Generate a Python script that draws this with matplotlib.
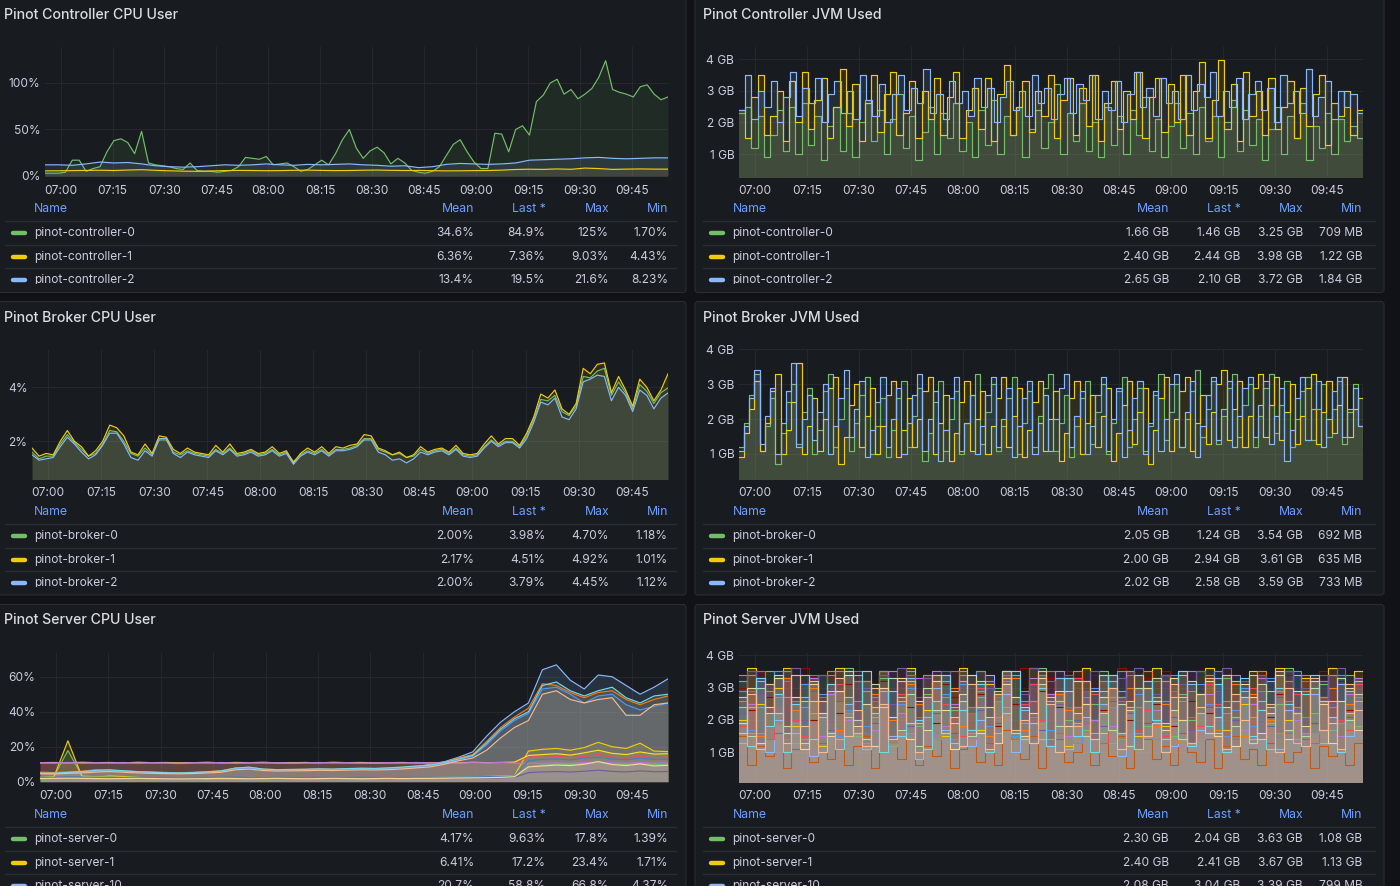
import numpy as np
import matplotlib
matplotlib.use("Agg")
import matplotlib.pyplot as plt
from matplotlib.patches import FancyBboxPatch

W, H = 1400, 886
plt.rcParams['font.family'] = ['Inter', 'DejaVu Sans']

# ---------------- data ----------------
TIME_LABELS = ["07:00", "07:15", "07:30", "07:45", "08:00", "08:15", "08:30",
               "08:45", "09:00", "09:15", "09:30", "09:45"]
TIME_TICKS = [0, 15, 30, 45, 60, 75, 90, 105, 120, 135, 150, 165]   # minutes after 07:00
T0, T1 = -4.6, 175.3                                                  # visible range (min)

LEGEND_HEADERS = ["Mean", "Last *", "Max", "Min"]

# Pinot Controller CPU User (%)
CTRL_CPU_NAMES = ["pinot-controller-0", "pinot-controller-1", "pinot-controller-2"]
ctrl_cpu_0 = [3, 3, 3, 4, 17, 17, 5, 8, 10, 26, 38, 40, 36, 24, 48, 14, 12, 11, 10, 8,
              7, 14, 6, 5, 5, 4, 5, 6, 10, 20, 19, 18, 21, 12, 13, 14, 10, 5, 7, 12,
              17, 12, 24, 39, 50, 30, 19, 27, 31, 25, 13, 19, 14, 6, 4, 3, 5, 10, 22, 34,
              39, 26, 15, 8, 8, 46, 45, 26, 50, 54, 44, 80, 87, 100, 104, 88, 93, 83, 88, 94,
              106, 124, 93, 90, 88, 85, 96, 98, 88, 82, 85]
ctrl_cpu_1 = [5.5, 5.6, 5.8, 6.0, 6.2, 5.9, 6.4, 6.8, 6.1, 5.6, 5.2, 5.0, 5.4, 5.8, 6.0, 5.9,
              5.7, 5.8, 6.1, 6.3, 6.0, 5.8, 5.9, 6.2, 6.4, 6.1, 5.9, 6.0, 5.7, 5.5, 5.6, 5.8,
              5.9, 6.3, 7.0, 7.3, 7.1, 7.6, 7.2, 8.5, 8.0, 7.1, 7.4, 7.6, 7.4, 7.36]
ctrl_cpu_2 = [12, 12, 11.5, 13, 15, 14, 14.5, 13, 11, 10, 9.5, 10, 11, 12, 11.5, 12, 13, 12,
              11.5, 12.5, 12, 12.5, 13, 12, 11.5, 10.5, 11, 9, 10, 12.5, 13.5, 13, 12.5, 13,
              14, 17, 17.5, 18, 18.5, 19.5, 20, 19, 18.5, 19, 19.5, 19.5]
CTRL_CPU_STATS = [["34.6%", "84.9%", "125%", "1.70%"],
                  ["6.36%", "7.36%", "9.03%", "4.43%"],
                  ["13.4%", "19.5%", "21.6%", "8.23%"]]

# Pinot Controller JVM Used (GB)
ctrl_jvm_0 = [2.3, 2.5, 1.2, 2.2, 0.9, 1.6, 2.4, 1.1, 2.5, 1.0, 2.6, 1.3, 2.2, 0.8, 1.9, 2.5, 1.1,
              2.3, 0.9, 2.0, 2.7, 1.4, 2.4, 1.0, 2.1, 2.9, 1.2, 2.2, 0.8, 1.7, 2.5, 1.0, 2.3, 1.5,
              2.6, 1.1, 2.0, 0.9, 2.4, 1.3, 2.7, 1.0, 2.2, 1.6, 2.5, 0.9, 1.8, 2.4, 1.2, 2.0, 3.2,
              1.0, 2.3, 1.4, 2.6, 1.1, 2.0, 0.9, 2.5, 1.3, 2.2, 1.0, 2.4, 1.6, 2.8, 1.1, 2.1, 0.9,
              1.9, 2.6, 1.2, 2.3, 1.0, 2.5, 1.4, 2.2, 0.9, 2.0, 2.7, 1.1, 2.4, 1.3, 2.1, 0.8, 1.8,
              2.5, 1.0, 2.2, 1.5, 2.6, 0.8, 1.9, 1.2, 2.3, 1.0, 2.1, 1.4, 1.9, 1.5, 1.46]
ctrl_jvm_1 = [2.4, 1.5, 2.8, 3.5, 1.6, 2.2, 3.0, 1.4, 3.3, 2.0, 3.6, 1.8, 2.7, 3.4, 1.5, 2.5, 3.7,
              1.9, 3.2, 1.4, 2.6, 3.5, 1.7, 2.9, 3.6, 1.6, 2.3, 3.3, 1.5, 3.0, 2.1, 3.4, 1.6, 2.8,
              3.6, 1.5, 2.4, 3.1, 1.8, 3.4, 1.4, 2.9, 3.8, 1.6, 2.5, 3.3, 1.7, 3.0, 2.2, 3.5, 1.5,
              2.7, 3.4, 1.6, 3.1, 1.9, 3.5, 1.4, 2.6, 3.3, 1.8, 3.0, 2.1, 3.6, 1.5, 2.8, 3.4, 1.7,
              3.2, 2.0, 3.5, 1.6, 3.0, 3.9, 1.5, 2.7, 3.98, 1.8, 3.2, 1.4, 3.6, 2.2, 3.0, 1.6, 3.4,
              1.8, 2.5, 3.3, 1.5, 3.1, 1.9, 2.9, 3.5, 1.3, 2.6, 2.2, 3.0, 1.6, 2.4, 2.44]
ctrl_jvm_2 = [2.4, 3.5, 2.1, 3.0, 2.5, 3.3, 2.0, 2.8, 3.6, 2.2, 3.1, 2.6, 3.4, 2.0, 2.9, 3.3, 2.3,
              3.0, 2.1, 3.5, 2.7, 2.2, 3.2, 2.0, 2.9, 3.5, 2.4, 3.1, 2.6, 3.7, 2.3, 2.9, 2.1, 3.3,
              2.6, 3.0, 2.2, 3.4, 2.5, 3.1, 2.0, 2.8, 3.3, 2.4, 3.0, 2.2, 3.5, 2.6, 3.1, 2.1, 2.9,
              3.4, 2.3, 3.2, 2.7, 3.5, 2.1, 3.0, 2.4, 3.3, 2.0, 2.9, 3.6, 2.5, 3.1, 2.2, 3.4, 2.6,
              3.0, 2.1, 3.5, 2.4, 3.2, 2.8, 3.6, 2.2, 3.0, 2.5, 3.4, 2.1, 2.9, 3.3, 2.4, 3.1, 2.0,
              3.5, 2.6, 3.0, 2.3, 3.7, 2.2, 2.8, 3.3, 2.1, 3.0, 2.5, 2.9, 2.3, 2.1]
CTRL_JVM_STATS = [["1.66 GB", "1.46 GB", "3.25 GB", "709 MB"],
                  ["2.40 GB", "2.44 GB", "3.98 GB", "1.22 GB"],
                  ["2.65 GB", "2.10 GB", "3.72 GB", "1.84 GB"]]

# Pinot Broker CPU User (%)
BROKER_NAMES = ["pinot-broker-0", "pinot-broker-1", "pinot-broker-2"]
broker_cpu_0 = [1.6, 1.35, 1.45, 1.45, 1.9, 2.25, 1.95, 1.7, 1.45, 1.55, 1.9, 2.4, 2.35, 2.0, 1.55,
                1.45, 1.75, 1.5, 2.05, 2.05, 1.6, 1.5, 1.65, 1.55, 1.5, 1.45, 1.7, 1.55, 1.75, 1.5,
                1.55, 1.65, 1.5, 1.55, 1.7, 1.5, 1.6, 1.25, 1.5, 1.65, 1.55, 1.7, 1.5, 1.7, 1.7,
                1.75, 1.85, 2.1, 2.1, 1.7, 1.6, 1.5, 1.55, 1.4, 1.45, 1.7, 1.55, 1.65, 1.7, 1.55,
                1.75, 1.5, 1.45, 1.5, 1.8, 2.05, 1.85, 2.0, 2.0, 1.8, 2.2, 2.8, 3.55, 3.5, 3.7,
                3.1, 2.95, 3.3, 4.4, 4.35, 4.6, 4.7, 3.7, 4.2, 3.8, 3.2, 4.1, 3.85, 3.4, 3.8, 3.98]
broker_cpu_1 = [1.75, 1.45, 1.55, 1.5, 2.0, 2.4, 2.0, 1.8, 1.45, 1.65, 2.0, 2.6, 2.5, 2.2, 1.6,
                1.5, 1.9, 1.55, 2.2, 2.15, 1.7, 1.55, 1.75, 1.6, 1.55, 1.5, 1.85, 1.6, 1.9, 1.55,
                1.6, 1.7, 1.55, 1.6, 1.8, 1.55, 1.65, 1.2, 1.55, 1.75, 1.6, 1.8, 1.55, 1.8, 1.75,
                1.85, 1.9, 2.25, 2.2, 1.75, 1.65, 1.5, 1.6, 1.4, 1.5, 1.8, 1.6, 1.7, 1.75, 1.6,
                1.85, 1.55, 1.5, 1.55, 1.9, 2.2, 1.9, 2.1, 2.1, 1.85, 2.3, 2.9, 3.75, 3.6, 3.9,
                3.2, 3.0, 3.4, 4.7, 4.5, 4.85, 4.9, 3.8, 4.4, 3.9, 3.3, 4.3, 4.0, 3.5, 3.9, 4.5]
broker_cpu_2 = [1.5, 1.3, 1.35, 1.4, 1.8, 2.15, 1.9, 1.6, 1.35, 1.5, 1.85, 2.3, 2.3, 1.9, 1.4,
                1.3, 1.65, 1.45, 2.1, 2.1, 1.55, 1.4, 1.6, 1.5, 1.45, 1.4, 1.65, 1.5, 1.7, 1.45,
                1.5, 1.6, 1.45, 1.5, 1.65, 1.45, 1.55, 1.15, 1.45, 1.6, 1.5, 1.65, 1.45, 1.65, 1.65,
                1.7, 1.8, 2.05, 2.05, 1.6, 1.5, 1.3, 1.35, 1.2, 1.35, 1.6, 1.5, 1.6, 1.65, 1.5,
                1.7, 1.45, 1.4, 1.45, 1.75, 2.0, 1.8, 1.95, 1.95, 1.75, 2.1, 2.7, 3.45, 3.35, 3.6,
                2.9, 2.8, 3.2, 4.2, 4.3, 4.45, 4.4, 3.5, 4.0, 3.7, 3.1, 3.9, 3.7, 3.2, 3.6, 3.79]
BROKER_CPU_STATS = [["2.00%", "3.98%", "4.70%", "1.18%"],
                    ["2.17%", "4.51%", "4.92%", "1.01%"],
                    ["2.00%", "3.79%", "4.45%", "1.12%"]]

# Pinot Broker JVM Used (GB)
broker_jvm_0 = [1.2, 1.9, 2.7, 3.3, 1.1, 1.8, 2.6, 0.7, 1.6, 2.5, 3.0, 1.3, 2.2, 2.9, 1.0, 1.7, 2.8,
                3.3, 1.2, 2.0, 2.9, 1.1, 1.9, 2.7, 3.2, 1.0, 1.8, 2.6, 0.9, 1.7, 2.6, 3.1, 1.2, 2.1,
                2.9, 0.8, 1.6, 2.5, 3.1, 1.1, 2.0, 2.8, 1.0, 1.9, 2.7, 3.3, 1.3, 2.2, 3.0, 1.1, 1.8,
                2.6, 3.2, 1.0, 1.9, 2.8, 1.2, 2.1, 2.9, 3.3, 1.1, 1.9, 2.7, 0.9, 1.8, 2.6, 3.1, 1.3,
                2.2, 3.0, 1.0, 1.9, 2.8, 3.2, 1.2, 2.0, 2.9, 1.1, 1.8, 2.7, 3.3, 1.4, 2.2, 3.0, 1.2,
                2.0, 2.8, 3.4, 1.5, 2.3, 3.1, 1.3, 2.1, 2.9, 3.3, 1.5, 2.4, 3.0, 1.2, 2.1, 2.9, 3.3,
                1.6, 2.4, 3.1, 1.2, 2.0, 2.8, 3.2, 1.4, 2.3, 3.0, 1.5, 2.3, 3.1, 1.3, 2.2, 3.0, 1.8,
                1.24]
broker_jvm_1 = [0.9, 1.6, 2.3, 3.1, 1.1, 1.9, 2.8, 3.3, 1.0, 1.7, 2.5, 3.6, 1.0, 1.8, 2.6, 1.1, 2.0,
                2.9, 3.2, 0.7, 1.5, 2.4, 3.0, 1.2, 2.1, 2.9, 1.0, 1.8, 2.7, 3.1, 0.9, 1.7, 2.6, 1.2,
                2.0, 2.8, 3.2, 1.0, 1.9, 2.7, 0.8, 1.6, 2.5, 3.1, 1.1, 2.0, 2.8, 1.0, 1.8, 2.6, 3.2,
                1.2, 2.1, 2.9, 0.9, 1.7, 2.5, 3.1, 1.1, 2.0, 2.8, 0.8, 1.6, 2.6, 3.1, 1.0, 1.9, 2.7,
                1.2, 2.1, 2.9, 0.8, 1.6, 2.4, 3.1, 1.3, 2.2, 2.9, 0.7, 1.7, 2.6, 3.2, 1.1, 2.0, 2.8,
                3.2, 1.1, 1.9, 2.7, 1.3, 2.2, 3.0, 3.4, 1.4, 2.3, 3.1, 1.2, 2.1, 2.9, 3.3, 1.5, 2.4,
                3.2, 1.4, 2.2, 3.0, 1.3, 2.1, 2.9, 3.3, 1.3, 2.2, 3.1, 1.6, 2.4, 3.2, 1.5, 2.3, 2.6,
                2.94]
broker_jvm_2 = [1.1, 1.8, 2.6, 3.4, 1.3, 2.1, 2.9, 1.0, 1.9, 2.8, 3.6, 1.2, 2.0, 2.7, 1.4, 2.2, 3.0,
                1.0, 1.8, 2.6, 3.4, 1.5, 2.3, 3.1, 0.9, 1.7, 2.5, 3.2, 1.2, 2.0, 2.9, 1.0, 1.9, 2.7,
                3.3, 1.1, 2.0, 2.8, 0.8, 1.7, 2.6, 3.2, 1.1, 1.9, 2.7, 1.0, 1.8, 2.7, 3.2, 1.2, 2.0,
                2.9, 0.9, 1.8, 2.6, 3.1, 1.0, 1.9, 2.7, 1.1, 2.0, 2.9, 3.3, 1.2, 2.1, 2.8, 1.0, 1.8,
                2.7, 3.2, 1.1, 2.0, 2.9, 0.9, 1.7, 2.6, 3.1, 1.0, 1.9, 2.8, 1.1, 2.0, 3.0, 3.3, 1.2,
                2.2, 3.1, 0.9, 1.8, 2.7, 3.2, 1.4, 2.3, 3.1, 1.2, 2.1, 2.9, 3.2, 1.5, 2.4, 3.1, 1.3,
                2.1, 2.9, 0.8, 1.7, 2.6, 3.2, 1.4, 2.3, 3.1, 1.2, 2.0, 2.8, 3.2, 1.5, 2.3, 2.9, 1.8,
                2.58]
BROKER_JVM_STATS = [["2.05 GB", "1.24 GB", "3.54 GB", "692 MB"],
                    ["2.00 GB", "2.94 GB", "3.61 GB", "635 MB"],
                    ["2.02 GB", "2.58 GB", "3.59 GB", "733 MB"]]

# Pinot Server CPU User (%) -- 4 min samples
SERVER_NAMES = ["pinot-server-0", "pinot-server-1", "pinot-server-10"]
SERVER_COLORS = ["#73BF69", "#F2CC0C", "#8AB8FF", "#FF780A", "#F2495C", "#5794F2", "#FADE2A",
                 "#705DA0", "#B877D9", "#447EBC", "#F4D598", "#70DBED", "#F9BA8F"]
server_cpu = [
    [2.5, 3.0, 17.8, 3.5, 2.8, 3.2, 3.0, 2.5, 2.2, 2.0, 1.8, 1.6, 1.5, 1.4, 1.6, 1.8, 2.0, 1.9,
     1.7, 1.6, 1.5, 1.6, 1.8, 1.7, 1.6, 1.5, 1.6, 1.7,
     1.8, 1.9, 2.0, 2.2, 2.3, 2.5, 3.0, 8.5, 9.5, 10.0, 9.8, 10.5, 11.0, 10.2, 9.8, 10.4, 9.9, 9.63],
    [2.5, 2.8, 23.4, 3.0, 2.6, 3.2, 2.9, 2.4, 2.2, 2.0, 2.1, 1.9, 1.8, 2.0, 2.2, 2.4, 2.3, 2.1,
     1.9, 2.0, 2.2, 2.1, 1.9, 1.8, 2.0, 2.1, 2.2, 2.3,
     2.4, 2.5, 2.6, 2.8, 3.0, 3.2, 3.5, 17.5, 18.5, 19.0, 18.0, 19.5, 22.5, 20.0, 19.0, 22.0, 17.5, 17.2],
    [5.0, 4.8, 5.2, 5.5, 6.0, 6.5, 6.2, 5.8, 5.5, 5.3, 5.0, 5.2, 5.5, 6.0, 7.5, 8.0, 7.0, 6.8,
     6.9, 7.0, 7.2, 7.0, 7.3, 7.5, 7.4, 7.6, 8.0, 8.5,
     10, 11.5, 14, 17, 26, 34, 40, 45, 64, 66.8, 58, 53, 61, 60, 55, 50, 54, 58.8],
    [5.5, 5.2, 5.6, 6.0, 6.8, 6.5, 6.0, 5.6, 5.3, 5.0, 5.1, 5.4, 5.8, 6.3, 7.8, 8.2, 7.2, 6.9,
     7.0, 7.1, 7.3, 7.1, 7.4, 7.6, 7.5, 7.8, 8.2, 8.8,
     9.5, 11, 13.5, 15.5, 23, 31, 37, 42, 56, 55, 51, 48, 51, 52, 47, 44, 47, 49],
    [10.6, 10.5, 10.8, 10.4, 10.6, 10.5, 10.7, 10.4, 10.6, 10.5, 10.3, 10.6, 10.5, 10.7, 10.4,
     10.6, 10.5, 10.6, 10.4, 10.5, 10.7, 10.5, 10.6, 10.4, 10.5, 10.6, 10.5, 10.7,
     10.5, 10.6, 10.4, 10.6, 10.5, 10.8, 11.0, 14.0, 15.0, 14.5, 13.8, 14.5, 15.5, 14.0, 13.5, 14.8, 13.6, 14.2],
    [4.8, 4.6, 5.0, 5.3, 5.8, 6.2, 5.9, 5.5, 5.2, 5.0, 4.8, 5.0, 5.3, 5.8, 7.2, 7.6, 6.8, 6.5,
     6.6, 6.8, 7.0, 6.8, 7.0, 7.2, 7.1, 7.3, 7.7, 8.2,
     9, 10.5, 12.5, 14.5, 21, 29, 35, 39, 53, 54, 50, 45, 49, 50, 44, 41, 43, 45],
    [10.9, 11.0, 10.8, 11.1, 10.9, 11.0, 10.8, 11.1, 10.9, 11.0, 10.8, 10.9, 11.1, 10.8, 11.0,
     10.9, 11.1, 10.8, 10.9, 11.0, 10.8, 11.1, 10.9, 11.0, 10.8, 10.9, 11.0, 10.8,
     10.9, 11.0, 10.8, 11.1, 10.9, 11.0, 11.2, 15.0, 15.5, 16.0, 15.2, 16.5, 18.0, 16.2, 15.5, 17.0, 15.8, 16.0],
    [2.0, 2.1, 2.2, 2.0, 1.9, 2.1, 2.0, 1.8, 1.9, 2.0, 1.8, 1.7, 1.9, 2.0, 2.1, 2.0, 1.9, 1.8,
     1.9, 2.0, 1.9, 1.8, 1.9, 2.0, 1.9, 1.8, 1.9, 2.0,
     2.0, 2.1, 2.0, 2.2, 2.1, 2.3, 2.5, 5.2, 5.6, 5.8, 5.5, 6.0, 6.6, 5.9, 5.6, 6.2, 5.7, 5.8],
    [10.9, 10.8, 11.0, 10.7, 10.9, 10.8, 11.0, 10.7, 10.9, 10.8, 10.6, 10.9, 10.8, 11.0, 10.7,
     10.9, 10.8, 10.9, 10.7, 10.8, 11.0, 10.8, 10.9, 10.7, 10.8, 10.9, 10.8, 11.0,
     10.8, 10.9, 10.7, 10.9, 10.8, 11.0, 10.6, 10.4, 10.6, 10.8, 10.5, 10.9, 11.2, 10.7, 10.5, 10.9, 10.6, 10.7],
    [2.6, 2.5, 2.8, 2.7, 2.5, 2.6, 2.4, 2.5, 2.3, 2.4, 2.2, 2.3, 2.4, 2.5, 2.6, 2.4, 2.3, 2.5,
     2.4, 2.3, 2.5, 2.4, 2.3, 2.5, 2.4, 2.3, 2.4, 2.5,
     2.5, 2.6, 2.7, 2.8, 2.9, 3.0, 3.3, 12.0, 12.8, 13.0, 12.5, 13.5, 14.0, 13.0, 12.6, 13.4, 12.8, 12.9],
    [1.8, 1.9, 2.0, 1.9, 1.8, 1.7, 1.8, 1.9, 1.8, 1.7, 1.6, 1.7, 1.8, 1.9, 1.8, 1.7, 1.8, 1.9,
     1.8, 1.7, 1.8, 1.9, 1.8, 1.7, 1.8, 1.9, 1.8, 1.9,
     1.9, 2.0, 2.1, 2.2, 2.3, 2.5, 2.8, 8.5, 9.0, 9.5, 9.2, 10.0, 11.5, 9.8, 9.2, 10.2, 9.0, 9.4],
    [4.8, 4.9, 5.3, 5.8, 6.5, 6.8, 6.2, 5.7, 5.4, 5.1, 5.0, 5.2, 5.6, 6.2, 7.8, 8.3, 7.2, 6.9,
     7.0, 7.1, 7.3, 7.2, 7.5, 7.7, 7.6, 7.9, 8.4, 9.0,
     9.5, 11, 13, 15, 22, 30, 36, 40, 55, 57, 52, 49, 52, 54, 48, 45, 49, 50],
    [4.5, 4.4, 4.8, 5.0, 5.5, 5.8, 5.4, 5.0, 4.8, 4.6, 4.5, 4.7, 5.0, 5.4, 6.8, 7.2, 6.4, 6.1,
     6.2, 6.3, 6.5, 6.4, 6.6, 6.8, 6.7, 6.9, 7.3, 7.9,
     8.5, 10, 12, 13.5, 18, 25, 31, 35, 50, 52, 47, 45, 47, 48, 38, 38, 44, 45],
]
SERVER_CPU_STATS = [["4.17%", "9.63%", "17.8%", "1.39%"],
                    ["6.41%", "17.2%", "23.4%", "1.71%"],
                    ["20.7%", "58.8%", "66.8%", "4.37%"]]

# Pinot Server JVM Used (GB) -- 2.5 min samples (drawn in this order)
SERVER_JVM_COLORS = ["#C15C17", "#890F02", "#73BF69", "#F2CC0C", "#8AB8FF", "#FF780A", "#F2495C",
                     "#5794F2", "#B877D9", "#705DA0", "#B7DBAB", "#F4D598", "#70DBED", "#F9BA8F"]
server_jvm = [
    [1.5, 0.6, 1.2, 0.9, 1.6, 0.5, 1.1, 1.4, 0.7, 1.3, 0.8, 1.7, 0.6, 1.2, 1.5, 0.5, 1.0, 1.4, 0.8,
     1.6, 0.6, 1.2, 0.9, 1.5, 0.5, 1.1, 1.4, 0.7, 1.3, 0.6, 1.7, 1.0, 0.8, 1.5, 0.5, 1.2, 1.4, 0.7,
     1.0, 1.6, 0.6, 1.3, 0.9, 1.5, 0.5, 1.1, 1.4, 0.8, 1.2, 0.6, 1.6, 1.0, 0.7, 1.4, 0.5, 1.2, 1.5,
     0.8, 1.1, 0.6, 1.3, 1.6, 0.7, 1.0, 1.4, 0.5, 1.2, 0.9, 1.5, 0.6, 1.3, 1.1],
    [3.0, 2.3, 3.5, 2.7, 1.9, 3.3, 2.5, 3.6, 2.0, 2.8, 3.4, 2.2, 3.1, 1.8, 3.5, 2.6, 3.2, 2.0, 3.6,
     2.4, 2.9, 3.4, 1.9, 3.1, 2.7, 3.5, 2.2, 2.8, 3.4, 1.8, 3.2, 2.5, 3.6, 2.1, 2.9, 3.3, 2.4, 3.5,
     1.9, 2.7, 3.4, 2.3, 3.0, 3.6, 2.0, 2.8, 3.3, 2.5, 3.5, 1.8, 3.1, 2.6, 3.4, 2.2, 2.9, 3.6, 2.0,
     3.2, 2.7, 3.5, 2.1, 2.8, 3.4, 2.4, 3.0, 1.9, 3.5, 2.6, 3.2, 2.3, 3.4, 2.8],
    [3.2, 1.6, 2.4, 3.5, 1.9, 2.7, 1.3, 3.1, 2.2, 3.4, 1.7, 2.6, 3.6, 1.5, 2.9, 2.1, 3.3, 1.2, 2.5,
     3.5, 1.8, 2.8, 1.4, 3.2, 2.3, 3.5, 1.6, 2.7, 1.1, 3.0, 2.4, 3.4, 1.9, 2.6, 3.6, 1.4, 2.8, 2.0,
     3.3, 1.7, 2.5, 3.5, 1.3, 2.9, 2.2, 3.4, 1.8, 2.6, 3.2, 1.5, 2.8, 2.0, 3.5, 1.6, 2.4, 3.3, 1.2,
     2.7, 2.1, 3.4, 1.9, 2.5, 3.6, 1.4, 2.9, 2.2, 3.1, 1.7, 2.6, 3.4, 1.8, 2.04],
    [2.0, 3.6, 2.5, 1.4, 3.0, 3.6, 1.8, 2.6, 3.3, 1.2, 2.8, 3.6, 2.1, 1.6, 3.2, 2.4, 3.5, 1.3, 2.7,
     3.6, 1.9, 2.3, 3.4, 1.5, 2.9, 3.6, 2.2, 1.7, 3.1, 2.6, 3.5, 1.4, 2.5, 3.6, 1.9, 2.8, 3.3, 1.2,
     2.4, 3.6, 2.0, 1.6, 3.0, 2.7, 3.5, 1.5, 2.6, 3.6, 1.8, 2.3, 3.4, 1.3, 2.8, 3.6, 2.1, 1.7, 3.2,
     2.5, 3.5, 1.4, 2.9, 3.6, 2.0, 2.4, 3.3, 1.6, 2.7, 3.6, 1.9, 2.2, 3.5, 2.41],
    [1.3, 2.4, 3.2, 1.0, 2.0, 3.3, 1.6, 2.7, 0.9, 2.2, 3.1, 1.4, 2.5, 3.4, 1.1, 1.9, 2.9, 1.5, 2.6,
     3.3, 0.8, 2.1, 3.0, 1.7, 2.4, 3.2, 1.2, 2.0, 3.4, 1.6, 2.8, 1.0, 2.3, 3.1, 1.4, 2.6, 3.3, 1.1,
     1.9, 2.9, 1.6, 2.5, 3.2, 0.9, 2.2, 3.0, 1.5, 2.7, 3.4, 1.2, 2.0, 3.1, 1.7, 2.4, 3.3, 1.0, 2.1,
     2.9, 1.4, 2.6, 3.2, 1.1, 2.3, 3.4, 1.6, 2.8, 1.3, 2.1, 3.1, 1.5, 2.6, 3.04],
    [2.6, 3.4, 1.5, 2.9, 1.9, 3.3, 2.3, 1.4, 3.0, 2.6, 3.5, 1.7, 2.2, 3.2, 1.3, 2.8, 3.5, 2.0, 1.6,
     3.1, 2.5, 3.4, 1.4, 2.7, 3.0, 1.8, 2.4, 3.5, 1.5, 2.9, 2.1, 3.3, 1.7, 2.6, 3.4, 1.2, 2.8, 2.3,
     3.5, 1.6, 2.0, 3.2, 2.7, 1.4, 3.0, 2.4, 3.5, 1.8, 2.5, 3.3, 1.3, 2.9, 2.2, 3.4, 1.7, 2.6, 3.1,
     1.5, 2.8, 3.5, 2.0, 1.6, 3.2, 2.4, 3.4, 1.4, 2.7, 3.0, 1.9, 2.5, 3.3, 2.2],
    [1.8, 2.9, 3.5, 1.4, 2.4, 3.2, 2.0, 1.5, 3.4, 2.7, 1.9, 3.1, 2.3, 3.5, 1.6, 2.6, 3.0, 1.3, 2.8,
     3.4, 2.1, 1.7, 3.2, 2.5, 3.5, 1.5, 2.2, 3.0, 1.8, 2.7, 3.4, 1.4, 2.5, 3.1, 2.0, 3.5, 1.6, 2.4,
     3.3, 1.9, 2.8, 1.3, 3.0, 2.6, 3.4, 1.7, 2.3, 3.2, 1.5, 2.9, 3.5, 2.1, 1.8, 3.1, 2.5, 3.4, 1.4,
     2.7, 3.0, 1.9, 2.4, 3.5, 1.6, 2.8, 3.2, 1.3, 2.6, 3.4, 2.0, 1.7, 3.1, 2.5],
    [2.9, 1.7, 3.3, 2.2, 3.5, 1.4, 2.6, 3.1, 1.9, 2.8, 3.4, 1.5, 2.3, 3.2, 1.8, 2.7, 3.5, 1.3, 2.5,
     3.0, 2.0, 3.4, 1.6, 2.8, 1.4, 3.1, 2.4, 3.5, 1.8, 2.6, 3.2, 1.5, 2.9, 2.1, 3.4, 1.7, 2.5, 3.3,
     1.3, 2.7, 3.0, 1.9, 2.4, 3.5, 1.6, 2.8, 3.2, 1.4, 2.6, 3.4, 2.0, 1.7, 3.1, 2.5, 3.5, 1.5, 2.3,
     3.0, 1.8, 2.9, 3.3, 1.4, 2.6, 3.5, 2.1, 1.6, 3.2, 2.4, 3.4, 1.9, 2.7, 3.0],
    [3.4, 2.5, 1.6, 3.1, 2.7, 3.5, 1.9, 2.4, 3.3, 1.5, 2.8, 3.5, 2.0, 2.6, 3.2, 1.7, 3.0, 3.5, 2.2,
     1.6, 3.3, 2.7, 3.5, 1.8, 2.5, 3.4, 1.4, 2.9, 3.2, 2.1, 3.5, 1.7, 2.6, 3.3, 1.9, 2.8, 3.5, 1.5,
     2.4, 3.2, 2.0, 3.4, 1.8, 2.7, 3.5, 1.6, 3.0, 2.3, 3.4, 1.9, 2.6, 3.5, 1.4, 2.8, 3.1, 2.2, 3.4,
     1.7, 2.5, 3.3, 1.8, 2.9, 3.5, 2.0, 1.6, 3.2, 2.6, 3.4, 1.5, 2.8, 3.3, 2.9],
    [2.2, 3.5, 2.8, 1.8, 3.3, 2.4, 3.6, 2.0, 2.9, 3.4, 1.7, 2.6, 3.5, 2.1, 3.0, 1.9, 3.4, 2.5, 3.6,
     1.8, 2.7, 3.3, 2.2, 3.5, 1.6, 2.9, 3.4, 2.3, 3.0, 1.9, 3.5, 2.4, 2.8, 3.6, 1.7, 3.2, 2.5, 3.4,
     2.0, 2.9, 3.5, 1.8, 2.6, 3.3, 2.2, 3.6, 1.9, 2.8, 3.4, 2.1, 3.1, 1.7, 3.5, 2.4, 2.9, 3.6, 2.0,
     3.2, 2.6, 3.4, 1.8, 2.7, 3.5, 2.3, 3.0, 1.9, 3.4, 2.5, 3.6, 2.1, 2.8, 3.3],
    [2.7, 1.5, 3.0, 2.2, 3.4, 1.8, 2.5, 1.3, 3.2, 2.6, 1.6, 2.9, 3.5, 2.0, 1.4, 3.1, 2.4, 3.3, 1.7,
     2.8, 1.2, 3.0, 2.3, 3.4, 1.9, 2.6, 1.5, 3.2, 2.1, 2.9, 3.5, 1.6, 2.4, 1.3, 3.1, 2.7, 1.8, 3.3,
     2.2, 1.5, 2.9, 3.4, 1.7, 2.5, 1.2, 3.0, 2.6, 3.3, 1.9, 2.3, 1.4, 3.2, 2.8, 1.6, 2.1, 3.4, 1.8,
     2.7, 1.3, 3.1, 2.4, 3.5, 1.7, 2.2, 1.5, 3.0, 2.6, 1.9, 3.3, 2.0, 2.8, 2.5],
    [1.9, 3.0, 1.3, 2.4, 3.3, 1.6, 2.7, 1.1, 3.1, 2.2, 1.5, 2.9, 3.4, 1.8, 2.5, 1.2, 3.0, 2.1, 3.3,
     1.4, 2.6, 1.7, 3.2, 2.3, 1.1, 2.8, 3.4, 1.6, 2.4, 1.3, 3.1, 2.7, 1.5, 2.2, 3.3, 1.2, 2.9, 1.8,
     3.2, 2.5, 1.4, 2.7, 3.4, 1.6, 2.3, 1.1, 3.0, 2.6, 1.7, 3.3, 2.0, 1.3, 2.8, 3.2, 1.5, 2.4, 1.2,
     3.1, 2.7, 1.6, 2.2, 3.4, 1.4, 2.9, 1.8, 3.2, 2.5, 1.3, 2.6, 3.0, 1.7, 2.4],
    [2.4, 1.2, 3.3, 1.8, 2.8, 1.0, 2.5, 3.4, 1.4, 2.1, 3.1, 1.1, 2.7, 1.6, 3.5, 2.2, 1.0, 2.9, 1.5,
     3.2, 2.0, 1.1, 2.6, 3.4, 1.3, 2.3, 1.7, 3.1, 1.0, 2.8, 2.2, 3.5, 1.4, 1.9, 3.0, 1.2, 2.6, 3.3,
     1.5, 2.1, 1.0, 2.9, 3.4, 1.6, 2.4, 1.1, 3.2, 2.0, 1.4, 2.7, 3.5, 1.2, 2.2, 1.8, 3.1, 1.0, 2.6,
     3.3, 1.5, 2.3, 1.1, 3.0, 2.5, 1.3, 2.8, 3.4, 1.7, 2.1, 1.0, 2.9, 3.2, 2.4],
    [1.6, 2.8, 1.1, 3.1, 2.2, 1.3, 3.4, 1.8, 2.6, 1.0, 2.9, 3.3, 1.5, 2.3, 1.2, 3.0, 2.5, 1.4, 3.2,
     1.9, 1.0, 2.7, 3.4, 1.6, 2.1, 1.2, 3.1, 2.4, 1.1, 2.8, 3.3, 1.7, 2.0, 1.3, 3.5, 2.5, 1.0, 2.9,
     1.8, 3.2, 1.4, 2.2, 3.0, 1.1, 2.6, 3.4, 1.5, 1.9, 1.0, 3.1, 2.7, 1.3, 2.4, 3.3, 1.6, 1.1, 2.8,
     2.0, 3.4, 1.4, 2.5, 1.0, 3.0, 2.2, 1.2, 3.3, 1.7, 2.6, 1.1, 3.1, 2.3, 1.9],
]
SERVER_JVM_STATS = [["2.30 GB", "2.04 GB", "3.63 GB", "1.08 GB"],
                    ["2.40 GB", "2.41 GB", "3.67 GB", "1.13 GB"],
                    ["2.08 GB", "3.04 GB", "3.39 GB", "799 MB"]]

TRIO_COLORS = ["#73BF69", "#F2CC0C", "#8AB8FF"]

# ---------------- style ----------------
CANVAS = "#111217"
PANEL = "#181b1f"
BORDER = "#2a2c32"
GRID = "#25272c"
TXT = "#ccccdc"
TITLE = "#dcdce4"
HEAD = "#6e9fff"
SEP = "#2a2c32"

fig = plt.figure(figsize=(14, 8.86), dpi=100)
fig.patch.set_facecolor(CANVAS)
bg = fig.add_axes([0, 0, 1, 1])
bg.set_xlim(0, W)
bg.set_ylim(H, 0)
bg.axis('off')


def panel(x0, y0, x1, y1):
    bg.add_patch(FancyBboxPatch((x0, y0), x1 - x0, y1 - y0,
                                boxstyle="round,pad=0,rounding_size=3",
                                fc=PANEL, ec=BORDER, lw=0.8))


def pax(l, t, r, b):
    return fig.add_axes([l / W, 1 - b / H, (r - l) / W, (b - t) / H])


def style_axes(ax, ylim, yticks, ylabels):
    ax.set_facecolor('none')
    ax.set_xlim(T0, T1)
    ax.set_ylim(*ylim)
    ax.set_xticks(TIME_TICKS)
    ax.set_xticklabels(TIME_LABELS)
    ax.set_yticks(yticks)
    ax.set_yticklabels(ylabels)
    for s in ax.spines.values():
        s.set_visible(False)
    ax.grid(True, color=GRID, lw=0.8)
    ax.set_axisbelow(True)
    ax.tick_params(length=0, colors=TXT, labelsize=8.6)
    ax.tick_params(axis='x', pad=5.6)
    ax.tick_params(axis='y', pad=3.2)


def series(ax, vals, color, step=False, alpha=0.1, lw=0.85):
    y = np.asarray(vals, dtype=float)
    x = np.linspace(T0, T1, len(y))
    if step:
        ax.fill_between(x, y, 0, step='post', color=color, alpha=alpha, lw=0)
        ax.step(x, y, where='post', color=color, lw=lw)
    else:
        ax.fill_between(x, y, 0, color=color, alpha=alpha, lw=0)
        ax.plot(x, y, color=color, lw=lw)


def legend(px0, px1, y_head, clip_bottom, names, colors, stats, right=False):
    lax = fig.add_axes([px0 / W, 1 - clip_bottom / H, (px1 - px0) / W,
                        (clip_bottom - (y_head - 12)) / H])
    lax.set_xlim(px0, px1)
    lax.set_ylim(clip_bottom, y_head - 12)
    lax.axis('off')
    off = 698.5 if right else 0
    name_x = 34 + off
    sw0, sw1 = 13 + off, 24.5 + off
    cols = [474, 545.5, 609, 668] if not right else [1169, 1240.5, 1303, 1362.5]
    sep0, sep1 = 4.5 + off, 676 + off
    lax.text(name_x, y_head, "Name", color=HEAD, fontsize=8.8, va='center', ha='left',
             clip_on=True)
    for hx, htxt in zip(cols, LEGEND_HEADERS):
        lax.text(hx, y_head, htxt, color=HEAD, fontsize=8.8, va='center', ha='right',
                 clip_on=True)
    for i in range(3):
        ys = y_head + 12 + i * 23.6
        lax.plot([sep0, sep1], [ys, ys], color=SEP, lw=1.0, clip_on=True)
        yr = y_head + 24 + i * 23.7
        lax.plot([sw0, sw1], [yr, yr], color=colors[i], lw=3.2, solid_capstyle='round',
                 clip_on=True)
        lax.text(name_x, yr, names[i], color=TXT, fontsize=8.6, va='center', ha='left',
                 clip_on=True)
        for hx, v in zip(cols, stats[i]):
            lax.text(hx, yr, v, color=TXT, fontsize=8.6, va='center', ha='right',
                     clip_on=True)


# panels
panel(-6, -6, 686, 292.5)
panel(695, -6, 1384, 292.5)
panel(-6, 301.5, 686, 595)
panel(695, 301.5, 1384, 595)
panel(-6, 604.5, 686, 900)
panel(695, 604.5, 1384, 900)

titles = [("Pinot Controller CPU User", 4, 15), ("Pinot Controller JVM Used", 703, 15),
          ("Pinot Broker CPU User", 4, 318), ("Pinot Broker JVM Used", 703, 318),
          ("Pinot Server CPU User", 4, 620.5), ("Pinot Server JVM Used", 703, 620.5)]
for txt, tx, ty in titles:
    bg.text(tx, ty, txt, color=TITLE, fontsize=10.2, fontweight='medium', va='center', ha='left')

# ---- Controller CPU
ax = pax(44.6, 47, 668, 177)
style_axes(ax, (-1.08, 138.7), [0, 50, 100], ["0%", "50%", "100%"])
for vals, c in zip([ctrl_cpu_0, ctrl_cpu_1, ctrl_cpu_2], TRIO_COLORS):
    series(ax, vals, c, alpha=0.1)
legend(0, 686, 209, 283.6, CTRL_CPU_NAMES, TRIO_COLORS, CTRL_CPU_STATS)

# ---- Controller JVM
ax = pax(738.7, 47, 1363, 177)
style_axes(ax, (0.274, 4.38), [1, 2, 3, 4], ["1 GB", "2 GB", "3 GB", "4 GB"])
for vals, c in zip([ctrl_jvm_0, ctrl_jvm_1, ctrl_jvm_2], TRIO_COLORS):
    series(ax, vals, c, step=True, alpha=0.11)
legend(695, 1384, 209, 283.6, CTRL_CPU_NAMES, TRIO_COLORS, CTRL_JVM_STATS, right=True)

# ---- Broker CPU
ax = pax(32, 350, 668, 479.3)
style_axes(ax, (0.593, 5.38), [2, 4], ["2%", "4%"])
for vals, c in zip([broker_cpu_0, broker_cpu_1, broker_cpu_2], TRIO_COLORS):
    series(ax, vals, c, alpha=0.1)
legend(0, 686, 512, 586.6, BROKER_NAMES, TRIO_COLORS, BROKER_CPU_STATS)

# ---- Broker JVM
ax = pax(738.7, 349.3, 1363, 479.3)
style_axes(ax, (0.275, 4.0), [1, 2, 3, 4], ["1 GB", "2 GB", "3 GB", "4 GB"])
for vals, c in zip([broker_jvm_0, broker_jvm_1, broker_jvm_2], TRIO_COLORS):
    series(ax, vals, c, step=True, alpha=0.11)
legend(695, 1384, 512, 586.6, BROKER_NAMES, TRIO_COLORS, BROKER_JVM_STATS, right=True)

# ---- Server CPU
ax = pax(40, 653.3, 668, 782.3)
style_axes(ax, (-0.34, 73.4), [0, 20, 40, 60], ["0%", "20%", "40%", "60%"])
for vals, c in zip(server_cpu, SERVER_COLORS):
    series(ax, vals, c, alpha=0.14)
legend(0, 686, 815, 900, SERVER_NAMES, TRIO_COLORS, SERVER_CPU_STATS)

# ---- Server JVM
ax = pax(738.7, 653.3, 1363, 782.3)
style_axes(ax, (0.072, 4.06), [1, 2, 3, 4], ["1 GB", "2 GB", "3 GB", "4 GB"])
for vals, c in zip(server_jvm, SERVER_JVM_COLORS):
    series(ax, vals, c, step=True, alpha=0.14, lw=0.8)
legend(695, 1384, 815, 900, SERVER_NAMES, TRIO_COLORS, SERVER_JVM_STATS, right=True)

fig.savefig("out.png", dpi=100, facecolor=CANVAS)
